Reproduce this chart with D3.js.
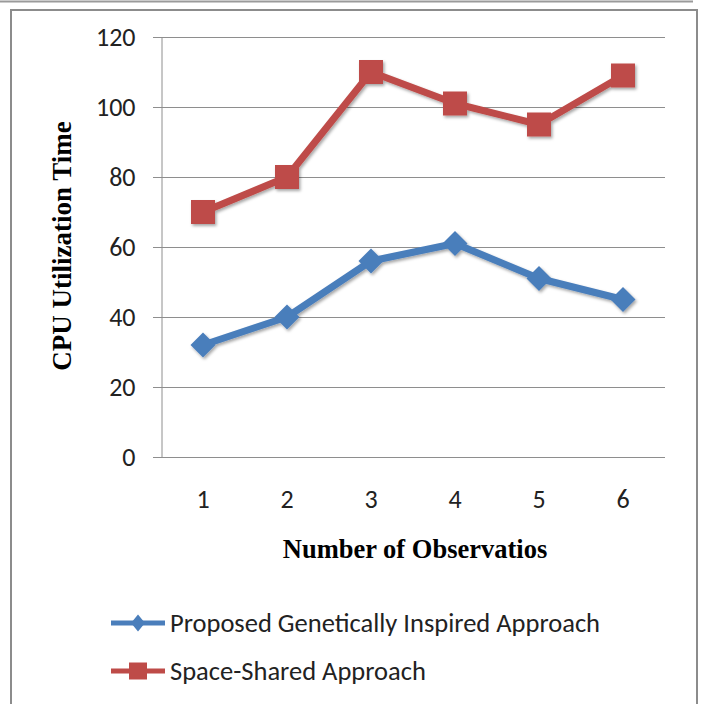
<!DOCTYPE html>
<html>
<head>
<meta charset="utf-8">
<script src="https://cdn.jsdelivr.net/npm/d3@7"></script>
<style>
  body { margin: 0; background: #fff; }
  .tick text { font-family: Carlito, Calibri, "Liberation Sans Narrow", "Liberation Sans", sans-serif; fill: #222; }
</style>
</head>
<body>
<div id="chart"></div>
<script>
// data
var observations = [1, 2, 3, 4, 5, 6];
var proposedGenetic = [32, 40, 56, 61, 51, 45];
var spaceShared = [70, 80, 110, 101, 95, 109];
var yTicks = [0, 20, 40, 60, 80, 100, 120];
var seriesNames = ["Proposed Genetically Inspired Approach", "Space-Shared Approach"];

var W = 702, H = 704;
var svg = d3.select("#chart").append("svg")
    .attr("width", W)
    .attr("height", H);

// outer frame
svg.append("line").attr("x1", 0).attr("x2", 693).attr("y1", 1.5).attr("y2", 1.5)
    .attr("stroke", "#9a9a9a").attr("stroke-width", 2);
svg.append("path").attr("d", "M11,704 V10 H697 V704")
    .attr("fill", "none").attr("stroke", "#8c8c8c").attr("stroke-width", 2);

var x = d3.scaleBand().domain(observations).range([161, 665]);
var y = d3.scaleLinear().domain([0, 120]).range([457, 37]);

// gridlines
svg.append("g").selectAll("line")
    .data(yTicks).enter().append("line")
    .attr("x1", 153).attr("x2", 665)
    .attr("y1", function(d) { return y(d) + 0.5; })
    .attr("y2", function(d) { return y(d) + 0.5; })
    .attr("stroke", "#8e8e8e").attr("stroke-width", 1);

// y axis
var yAxis = svg.append("g")
    .attr("transform", "translate(161.5,0)")
    .call(d3.axisLeft(y).tickValues(yTicks).tickSize(0).tickPadding(26));
yAxis.select(".domain").attr("stroke", "#8e8e8e");
yAxis.selectAll("text").style("font-size", "26px");

// x axis
var xAxis = svg.append("g")
    .attr("transform", "translate(0,457.5)")
    .call(d3.axisBottom(x).tickSize(0).tickPadding(32));
xAxis.select(".domain").attr("stroke", "#8e8e8e").attr("d", "M153,0H665");
xAxis.selectAll("text").attr("dy", null).attr("y", 50).style("font-size", "26px");

// axis titles
svg.append("text")
    .attr("transform", "translate(71,246) rotate(-90)")
    .attr("text-anchor", "middle")
    .style("font-family", "'Liberation Serif', 'Times New Roman', serif")
    .style("font-weight", "bold")
    .style("font-size", "27px")
    .text("CPU Utilization Time");

svg.append("text")
    .attr("x", 415).attr("y", 558)
    .attr("text-anchor", "middle")
    .style("font-family", "'Liberation Serif', 'Times New Roman', serif")
    .style("font-weight", "bold")
    .style("font-size", "26.5px")
    .text("Number of Observatios");

// shadow
var defs = svg.append("defs");
var f = defs.append("filter").attr("id", "shadow").attr("x", "-20%").attr("y", "-20%").attr("width", "140%").attr("height", "140%");
f.append("feDropShadow").attr("dx", 1.5).attr("dy", 2).attr("stdDeviation", 1.5)
    .attr("flood-color", "#000").attr("flood-opacity", 0.35);

var line = d3.line()
    .x(function(d, i) { return x(observations[i]) + x.bandwidth() / 2; })
    .y(function(d) { return y(d); });

var blue = "#4a7ebb", red = "#be4b48";

function drawSeries(vals, color, marker) {
    var g = svg.append("g").attr("filter", "url(#shadow)");
    g.append("path").datum(vals)
        .attr("d", line)
        .attr("fill", "none").attr("stroke", color)
        .attr("stroke-width", 7).attr("stroke-linejoin", "round");
    g.selectAll(".m").data(vals).enter().append("path")
        .attr("class", "m")
        .attr("transform", function(d, i) {
            return "translate(" + (x(observations[i]) + x.bandwidth() / 2) + "," + y(d) + ")";
        })
        .attr("d", marker)
        .attr("fill", color);
}

var diamond = "M0,-12.5L12.5,0L0,12.5L-12.5,0Z";
var square = "M-12,-12H12V12H-12Z";

drawSeries(proposedGenetic, blue, diamond);
drawSeries(spaceShared, red, square);

// legend
var legend = svg.append("g");
var legendItems = [
    { name: seriesNames[0], color: blue, marker: "M0,-8.5L7,0L0,8.5L-7,0Z", y: 623 },
    { name: seriesNames[1], color: red, marker: "M-9,-8.5H9V8.5H-9Z", y: 671 }
];
legendItems.forEach(function(it) {
    var g = legend.append("g").attr("transform", "translate(0," + it.y + ")");
    g.append("line").attr("x1", 111).attr("x2", 165).attr("y1", 0).attr("y2", 0)
        .attr("stroke", it.color).attr("stroke-width", 5);
    g.append("path").attr("transform", "translate(138,0)").attr("d", it.marker).attr("fill", it.color);
    g.append("text").attr("x", 170).attr("y", 8.5)
        .style("font-family", "Carlito, Calibri, 'Liberation Sans Narrow', 'Liberation Sans', sans-serif")
        .style("font-size", "26.5px")
        .style("fill", "#222")
        .text(it.name);
});
</script>
</body>
</html>
